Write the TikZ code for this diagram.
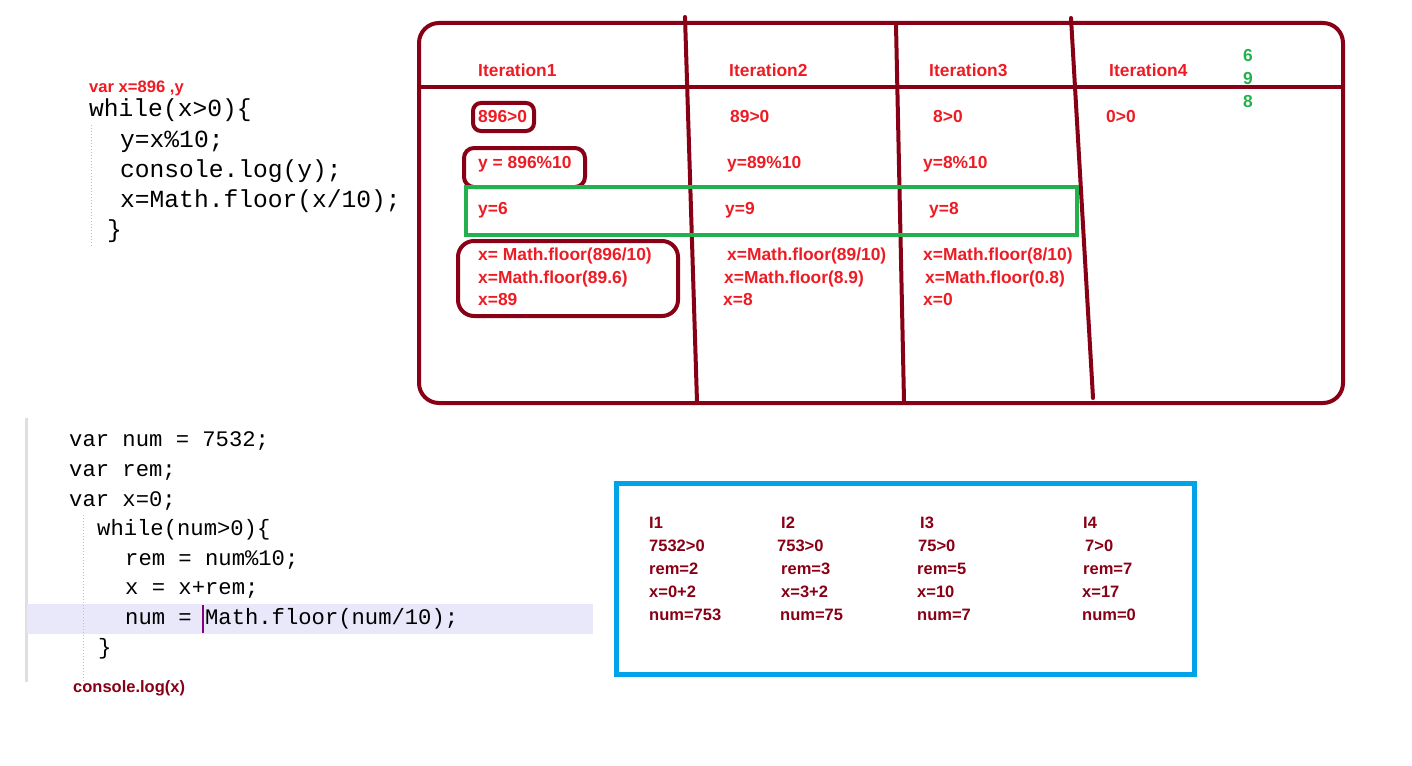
\documentclass[tikz,border=0pt]{standalone}
\usepackage{fontspec}
\setmainfont{Liberation Sans}
\setmonofont{Liberation Mono}
\definecolor{pred}{HTML}{ED1C24}
\definecolor{pmaroon}{HTML}{880015}
\definecolor{pgreen}{HTML}{22B14C}
\definecolor{pblue}{HTML}{00A2E8}
\definecolor{hiline}{HTML}{E8E8FA}
\tikzset{
  redtxt/.style={anchor=west, inner sep=0pt, text height=12.4pt, text depth=0pt,
    text=pred, font=\fontsize{17.4}{19}\selectfont\bfseries},
  greentxt/.style={redtxt, anchor=center, text=pgreen},
  bluetxt/.style={anchor=west, inner sep=0pt, text height=11.8pt, text depth=0pt,
    text=pmaroon, font=\fontsize{16.5}{18}\selectfont\bfseries},
  codetop/.style={anchor=west, inner sep=0pt, text height=14pt, text depth=0pt,
    font=\fontsize{24.6}{26}\selectfont\ttfamily},
  codebot/.style={anchor=west, inner sep=0pt, text height=13pt, text depth=0pt,
    font=\fontsize{22.2}{24}\selectfont\ttfamily},
  maroonline/.style={draw=pmaroon, line width=4pt, line cap=round},
}
\begin{document}
\begin{tikzpicture}[x=1pt,y=-1pt]
\useasboundingbox (0,0) rectangle (1412,765);
% first loop code
\node[redtxt, font=\fontsize{16.6}{18}\selectfont\bfseries] (decl) at (89,86) {var x=896 ,y};
\draw[gray!50, dotted, line width=1pt] (91,125) -- (91,248);
\node[codetop] (t1) at (89,110) {while(x>0)\{};
\node[codetop] (t2) at (120,140) {y=x\%10;};
\node[codetop] (t3) at (120,170) {console.log(y);};
\node[codetop] (t4) at (120,200) {x=Math.floor(x/10);};
\node[codetop] (t5) at (107,230) {\}};
% iteration table
\draw[maroonline, rounded corners=20pt] (419,23) rectangle (1343,403);
\draw[maroonline] (419,87) -- (1343,87);
\draw[maroonline] (685,17) -- (697,402);
\draw[maroonline] (896,25) -- (904,401);
\draw[maroonline] (1071,18) -- (1093,398);
\node[redtxt] (it1) at (478,70) {Iteration1};
\node[redtxt] (it2) at (729,70) {Iteration2};
\node[redtxt] (it3) at (929,70) {Iteration3};
\node[redtxt] (it4) at (1109,70) {Iteration4};
\node[greentxt] (o1) at (1248,55) {6};
\node[greentxt] (o2) at (1248,78) {9};
\node[greentxt] (o3) at (1248,101) {8};
% conditions
\node[redtxt] (c1) at (478,116) {896>0};
\node[redtxt] (c2) at (730,116) {89>0};
\node[redtxt] (c3) at (933,116) {8>0};
\node[redtxt] (c4) at (1106,116) {0>0};
% remainders
\node[redtxt] (r1) at (478,162) {y = 896\%10};
\node[redtxt] (r2) at (727,162) {y=89\%10};
\node[redtxt] (r3) at (923,162) {y=8\%10};
\node[redtxt] (y1) at (478,208) {y=6};
\node[redtxt] (y2) at (725,208) {y=9};
\node[redtxt] (y3) at (929,208) {y=8};
% floor steps
\node[redtxt] (f11) at (478,254) {x= Math.floor(896/10)};
\node[redtxt] (f12) at (478,277) {x=Math.floor(89.6)};
\node[redtxt] (f13) at (478,299) {x=89};
\node[redtxt] (f21) at (727,254) {x=Math.floor(89/10)};
\node[redtxt] (f22) at (724,277) {x=Math.floor(8.9)};
\node[redtxt] (f23) at (723,299) {x=8};
\node[redtxt] (f31) at (923,254) {x=Math.floor(8/10)};
\node[redtxt] (f32) at (925,277) {x=Math.floor(0.8)};
\node[redtxt] (f33) at (923,299) {x=0};
\draw[maroonline, rounded corners=8pt] (473,103) rectangle (534,131);
\draw[maroonline, rounded corners=10pt] (464,148) rectangle (585,187);
\draw[maroonline, rounded corners=16pt] (458,241) rectangle (678,316);
\draw[pgreen, line width=4pt] (466,187) rectangle (1077,235);
% second loop code
\draw[gray!25, line width=3pt] (26,418) -- (26,682);
\fill[hiline] (27,604) rectangle (593,634);
\draw[gray!50, dotted, line width=1pt] (83,515) -- (83,682);
\node[codebot] (b1) at (69,440) {var num = 7532;};
\node[codebot] (b2) at (69,470) {var rem;};
\node[codebot] (b3) at (69,500) {var x=0;};
\node[codebot] (b4) at (97,529) {while(num>0)\{};
\node[codebot] (b5) at (125,559) {rem = num\%10;};
\node[codebot] (b6) at (125,588) {x = x+rem;};
\node[codebot] (b7) at (125,618) {num = Math.floor(num/10);};
\node[codebot] (b8) at (98,648) {\}};
\draw[violet, line width=1.5pt] (203,605) -- (203,633);
\node[bluetxt] (logx) at (73,687) {console.log(x)};
% digit sum table
\draw[pblue, line width=5pt] (616,483) rectangle (1194,674);
\foreach \col/\xa/\xb/\xc/\xd/\xe/\it/\cnd/\rem/\acc/\num in {
  a/649/649/649/649/649/I1/7532>0/rem=2/x=0+2/num=753,
  b/781/777/781/781/780/I2/753>0/rem=3/x=3+2/num=75,
  c/920/918/917/917/917/I3/75>0/rem=5/x=10/num=7,
  d/1083/1085/1083/1082/1082/I4/7>0/rem=7/x=17/num=0}{
  \node[bluetxt] (\col1) at (\xa,523) {\it};
  \node[bluetxt] (\col2) at (\xb,546) {\cnd};
  \node[bluetxt] (\col3) at (\xc,569) {\rem};
  \node[bluetxt] (\col4) at (\xd,592) {\acc};
  \node[bluetxt] (\col5) at (\xe,615) {\num};
}
\end{tikzpicture}
\end{document}
